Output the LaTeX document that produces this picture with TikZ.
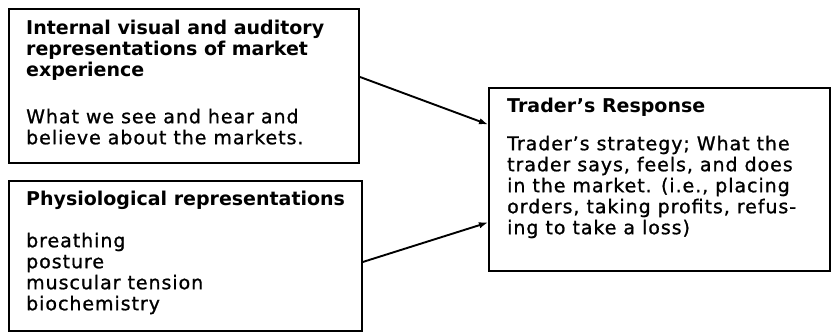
\documentclass[tikz,border=0pt]{standalone}
\usepackage{fontspec}
\setmainfont{DejaVu Sans}[LetterSpace=5, FakeBold=1, BoldFeatures={LetterSpace=0, FakeBold=0}]
\usetikzlibrary{arrows.meta}
\tikzset{
  box/.style={draw=black, line width=1.9pt, rectangle, inner sep=0pt, anchor=north west},
  txt/.style={anchor=north west, align=left, inner sep=0pt, font=\fontsize{19}{21}\selectfont},
  conn/.style={line width=1.9pt, -{Latex[length=9pt,width=6.5pt]}},
}
\begin{document}
\begin{tikzpicture}[x=1pt,y=-1pt]
\useasboundingbox[fill=white] (0,0) rectangle (831,332);
\node[box, minimum width=350pt, minimum height=154pt] (b1) at (8,8) {};
\node[box, minimum width=353pt, minimum height=150pt] (b2) at (8,180) {};
\node[box, minimum width=341pt, minimum height=183pt] (b3) at (488,87) {};
\node[txt] (t1) at (26,19.6) {\textbf{Internal visual and auditory}\\\textbf{representations of market}\\\textbf{experience}\\[26pt]What we see and hear and\\believe about the markets.};
\node[txt] (t2) at (26,190.6) {\textbf{Physiological representations}\\[21pt]breathing\\posture\\muscular tension\\biochemistry};
\node[txt] (t3) at (507,97.6) {\textbf{Trader's Response}\\[17pt]Trader's strategy; What the\\trader says, feels, and does\\in the market. (i.e., placing\\orders, taking profits, refus-\\ing to take a loss)};
\draw[conn] ([yshift=9pt]b1.east) -- ([yshift=55pt]b3.west);
\draw[conn] ([yshift=-6pt]b2.east) -- ([yshift=-43pt]b3.west);
\end{tikzpicture}
\end{document}
